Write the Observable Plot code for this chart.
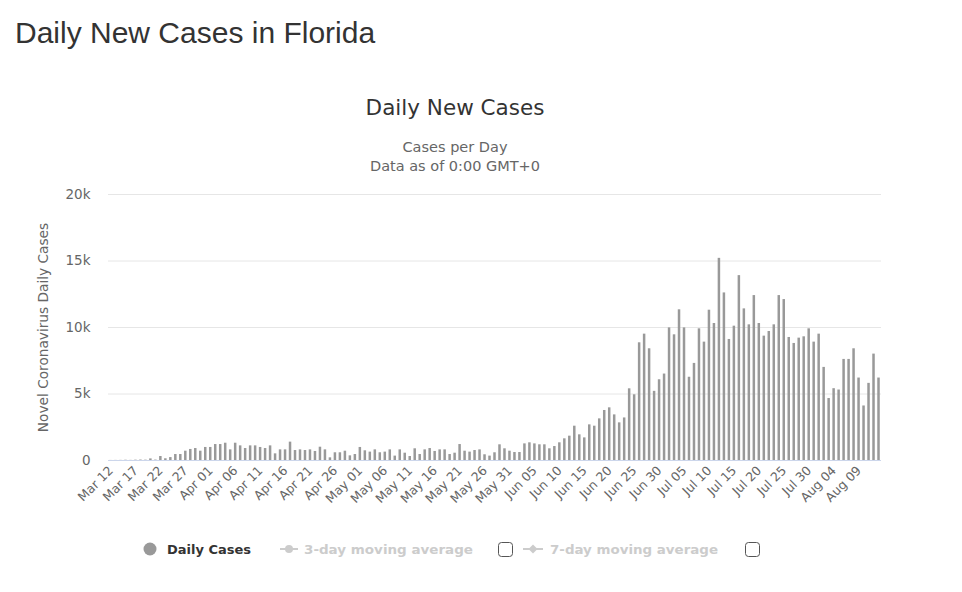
<!DOCTYPE html>
<html>
<head>
<meta charset="utf-8">
<script src="https://cdn.jsdelivr.net/npm/d3@7"></script>
<script src="https://cdn.jsdelivr.net/npm/@observablehq/plot@0.6"></script>
<style>
  html, body { margin: 0; padding: 0; background: #fff; width: 962px; height: 592px; overflow: hidden; position: relative; }
  .abs { position: absolute; white-space: nowrap; }
  #pageTitle { left: 15px; top: 18px; font-family: "Liberation Sans", Arial, sans-serif; font-size: 30px; line-height: 30px; color: #333; }
  #chartTitle { left: 0; width: 910px; text-align: center; top: 97px; font-family: "DejaVu Sans", sans-serif; font-size: 21.5px; line-height: 21px; color: #333; }
  #sub1 { left: 0; width: 910px; text-align: center; top: 140px; font-family: "DejaVu Sans", sans-serif; font-size: 14.5px; line-height: 14px; color: #666; }
  #sub2 { left: 0; width: 910px; text-align: center; top: 159px; font-family: "DejaVu Sans", sans-serif; font-size: 14.5px; line-height: 14px; color: #666; }
  #chart { left: 0; top: 180px; }
  #legend { left: 0; top: 530px; }
</style>
</head>
<body>
<div id="pageTitle" class="abs">Daily New Cases in Florida</div>
<div id="chartTitle" class="abs">Daily New Cases</div>
<div id="sub1" class="abs">Cases per Day</div>
<div id="sub2" class="abs">Data as of 0:00 GMT+0</div>
<div id="chart" class="abs"></div>
<svg id="legend" class="abs" width="962" height="40" font-family="DejaVu Sans, sans-serif" font-size="13" font-weight="bold">
  <circle cx="150" cy="19" r="6.5" fill="#999"></circle>
  <text x="167" y="24" fill="#333">Daily Cases</text>
  <line x1="280" x2="298" y1="19" y2="19" stroke="#ccc" stroke-width="2"></line>
  <circle cx="289" cy="19" r="4" fill="#ccc"></circle>
  <text x="304" y="24" fill="#ccc" textLength="169" lengthAdjust="spacingAndGlyphs">3-day moving average</text>
  <rect x="498.5" y="12.5" width="14" height="14" rx="3" fill="#fff" stroke="#555"></rect>
  <line x1="523" x2="543" y1="19" y2="19" stroke="#ccc" stroke-width="2"></line>
  <path d="M533,14.5 L537.5,19 L533,23.5 L528.5,19 Z" fill="#ccc"></path>
  <text x="550" y="24" fill="#ccc" textLength="168" lengthAdjust="spacingAndGlyphs">7-day moving average</text>
  <rect x="745.5" y="12.5" width="14" height="14" rx="3" fill="#fff" stroke="#555"></rect>
</svg>
<script>
// Daily new cases, Mar 12 – Aug 13 (2020)
const mar = [5, 8, 10, 20, 10, 25, 35, 25, 120, 30, 300, 130, 220, 450, 450, 700, 830, 900, 700, 980];
const apr = [980, 1200, 1200, 1300, 800, 1300, 1100, 900, 1100, 1100, 980, 900, 1100, 500, 800, 800, 1380, 750, 800, 750,
             800, 680, 1000, 800, 200, 580, 580, 700, 350, 450];
const may = [980, 730, 630, 800, 580, 630, 800, 330, 800, 550, 300, 880, 450, 800, 900, 680, 800, 800, 450, 550,
             1200, 700, 630, 750, 800, 430, 330, 580, 1180, 880, 700];
const jun = [600, 600, 1250, 1330, 1250, 1180, 1180, 880, 1050, 1330, 1630, 1830, 2580, 1930, 1700, 2680, 2580, 3130, 3760, 3960,
             3430, 2830, 3200, 5390, 4940, 8850, 9500, 8400, 5200, 6070];
const jul = [6500, 9970, 9450, 11330, 9970, 6260, 7300, 9900, 8900, 11300, 10300, 15200, 12600, 9100, 10100, 13900, 11400, 10200, 12400, 10300,
             9350, 9700, 10200, 12400, 12100, 9250, 8800, 9200, 9300, 9900, 8900];
const aug = [9500, 7000, 4660, 5400, 5300, 7600, 7600, 8400, 6200, 4100, 5800, 8000, 6200];

const cases = [...mar, ...apr, ...may, ...jun, ...jul, ...aug];
const fmt = d3.utcFormat("%b %d");
const categories = d3.utcDay.range(new Date(Date.UTC(2020, 2, 12)), new Date(Date.UTC(2020, 7, 14))).map(fmt);
const tickLabels = ["Mar 12","Mar 17","Mar 22","Mar 27","Apr 01","Apr 06","Apr 11","Apr 16","Apr 21","Apr 26",
  "May 01","May 06","May 11","May 16","May 21","May 26","May 31","Jun 05","Jun 10","Jun 15","Jun 20","Jun 25","Jun 30",
  "Jul 05","Jul 10","Jul 15","Jul 20","Jul 25","Jul 30","Aug 04","Aug 09"];
const yTicks = [0, 5000, 10000, 15000, 20000];
const yTitle = "Novel Coronavirus Daily Cases";

const data = categories.map((c, i) => ({day: c, cases: cases[i]}));

const chart = Plot.plot({
  width: 962,
  height: 340,
  marginTop: 14,
  marginBottom: 60,
  marginLeft: 108,
  marginRight: 81,
  style: {fontFamily: "DejaVu Sans, sans-serif", fontSize: "11px", color: "#666", background: "transparent", overflow: "visible"},
  x: {type: "band", domain: categories, paddingInner: 0.5, paddingOuter: 0.25},
  y: {domain: [0, 20000]},
  marks: [
    Plot.gridY(yTicks.slice(1), {stroke: "#e6e6e6", strokeOpacity: 1}),
    Plot.barY(data, {x: "day", y: "cases", fill: "#999"}),
    Plot.ruleY([0], {stroke: "#ccd6eb"}),
    Plot.axisY(yTicks, {tickSize: 0, tickPadding: 18, fontSize: 13.5, fill: "#666", label: null,
      tickFormat: d => d === 0 ? "0" : (d / 1000) + "k"}),
    Plot.axisX(tickLabels, {tickSize: 0, tickPadding: 8, tickRotate: -45, fontSize: 12.5, fill: "#666", label: null}),
    Plot.text([yTitle], {frameAnchor: "left", dx: -65, rotate: -90, textAnchor: "middle", fontSize: 13.7, fill: "#666", text: d => d})
  ]
});
document.getElementById("chart").appendChild(chart);
</script>
</body>
</html>
